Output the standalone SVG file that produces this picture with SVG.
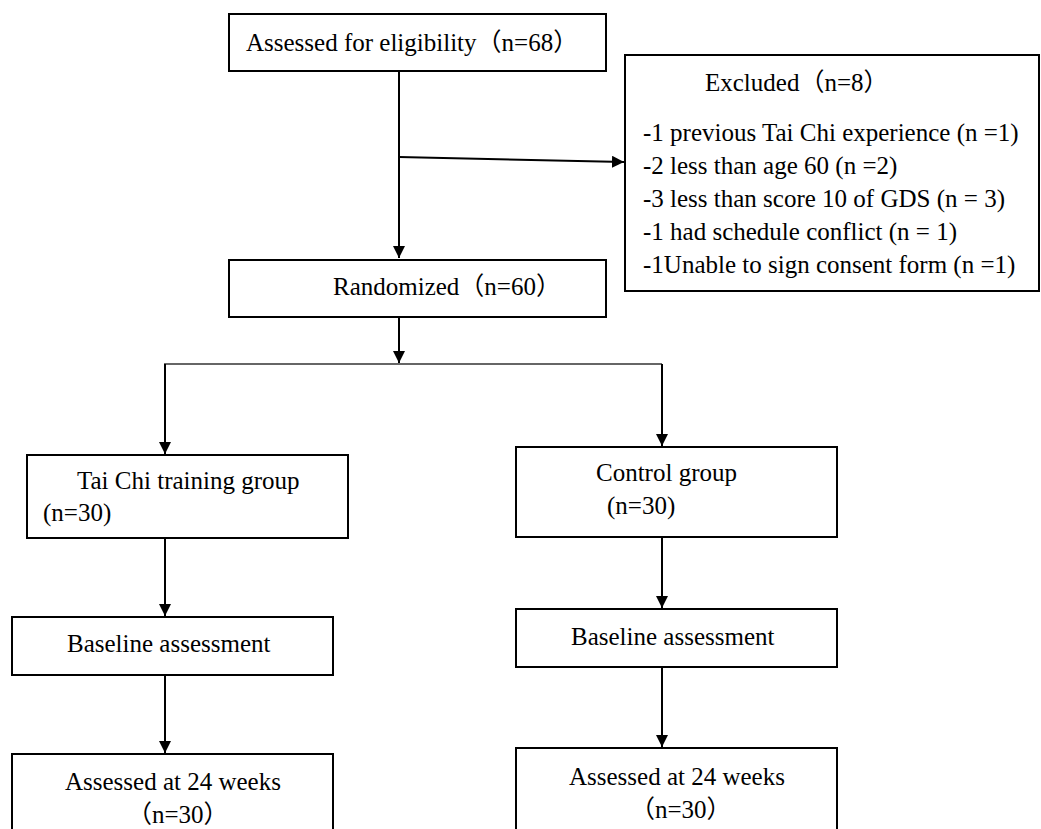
<svg xmlns="http://www.w3.org/2000/svg" width="1041" height="829" viewBox="0 0 1041 829">
<style>
.box{fill:#fff;stroke:#000;stroke-width:2}
.t{font-family:"Liberation Serif","Noto Sans CJK SC",serif;font-size:25px;fill:#000}
.c{fill:none;stroke:#000;stroke-width:2}
</style>
<defs>
<marker id="ah" markerUnits="userSpaceOnUse" markerWidth="13" markerHeight="13" refX="12" refY="6" orient="auto">
<path d="M0,0 L12,6 L0,12 z" fill="#000"/>
</marker>
</defs>
<rect width="1041" height="829" fill="#fff"/>
<g id="connectors">
<line class="c" x1="399" y1="71" x2="399" y2="258" marker-end="url(#ah)"/>
<line class="c" x1="399" y1="157" x2="624" y2="162" marker-end="url(#ah)"/>
<line class="c" x1="399" y1="317" x2="399" y2="363" marker-end="url(#ah)"/>
<line x1="164" y1="364" x2="662" y2="364" stroke="#333" stroke-width="1.5"/>
<line class="c" x1="165" y1="364" x2="165" y2="454" marker-end="url(#ah)"/>
<line class="c" x1="662" y1="364" x2="662" y2="446" marker-end="url(#ah)"/>
<line class="c" x1="165" y1="538" x2="165" y2="616" marker-end="url(#ah)"/>
<line class="c" x1="662" y1="537" x2="662" y2="608" marker-end="url(#ah)"/>
<line class="c" x1="165" y1="675" x2="165" y2="753" marker-end="url(#ah)"/>
<line class="c" x1="662" y1="667" x2="662" y2="747" marker-end="url(#ah)"/>
</g>
<g id="eligibility">
<rect class="box" x="229" y="14" width="377" height="57"/>
<text class="t" x="246" y="51">Assessed for eligibility（n=68）</text>
</g>
<g id="excluded">
<rect class="box" x="625" y="55" width="414" height="236"/>
<text class="t" x="705" y="91">Excluded（n=8）</text>
<text class="t" x="643" y="141">-1 previous Tai Chi experience (n =1)</text>
<text class="t" x="643" y="174">-2 less than age 60 (n =2)</text>
<text class="t" x="643" y="207">-3 less than score 10 of GDS (n = 3)</text>
<text class="t" x="643" y="240">-1 had schedule conflict (n = 1)</text>
<text class="t" x="643" y="273">-1Unable to sign consent form (n =1)</text>
</g>
<g id="randomized">
<rect class="box" x="229" y="260" width="377" height="57"/>
<text class="t" x="333" y="295">Randomized（n=60）</text>
</g>
<g id="taichi">
<rect class="box" x="27" y="455" width="321" height="83"/>
<text class="t" x="77" y="489">Tai Chi training group</text>
<text class="t" x="43" y="521">(n=30)</text>
</g>
<g id="control">
<rect class="box" x="516" y="447" width="321" height="90"/>
<text class="t" x="596" y="481">Control group</text>
<text class="t" x="607" y="514">(n=30)</text>
</g>
<g id="baseline-left">
<rect class="box" x="12" y="617" width="321" height="58"/>
<text class="t" x="67" y="652">Baseline assessment</text>
</g>
<g id="baseline-right">
<rect class="box" x="516" y="609" width="321" height="58"/>
<text class="t" x="571" y="645">Baseline assessment</text>
</g>
<g id="week24-left">
<rect class="box" x="12" y="754" width="321" height="90"/>
<text class="t" x="65" y="790">Assessed at 24 weeks</text>
<text class="t" x="127" y="823">（n=30）</text>
</g>
<g id="week24-right">
<rect class="box" x="516" y="748" width="321" height="96"/>
<text class="t" x="569" y="785">Assessed at 24 weeks</text>
<text class="t" x="630" y="818">（n=30）</text>
</g>
</svg>
